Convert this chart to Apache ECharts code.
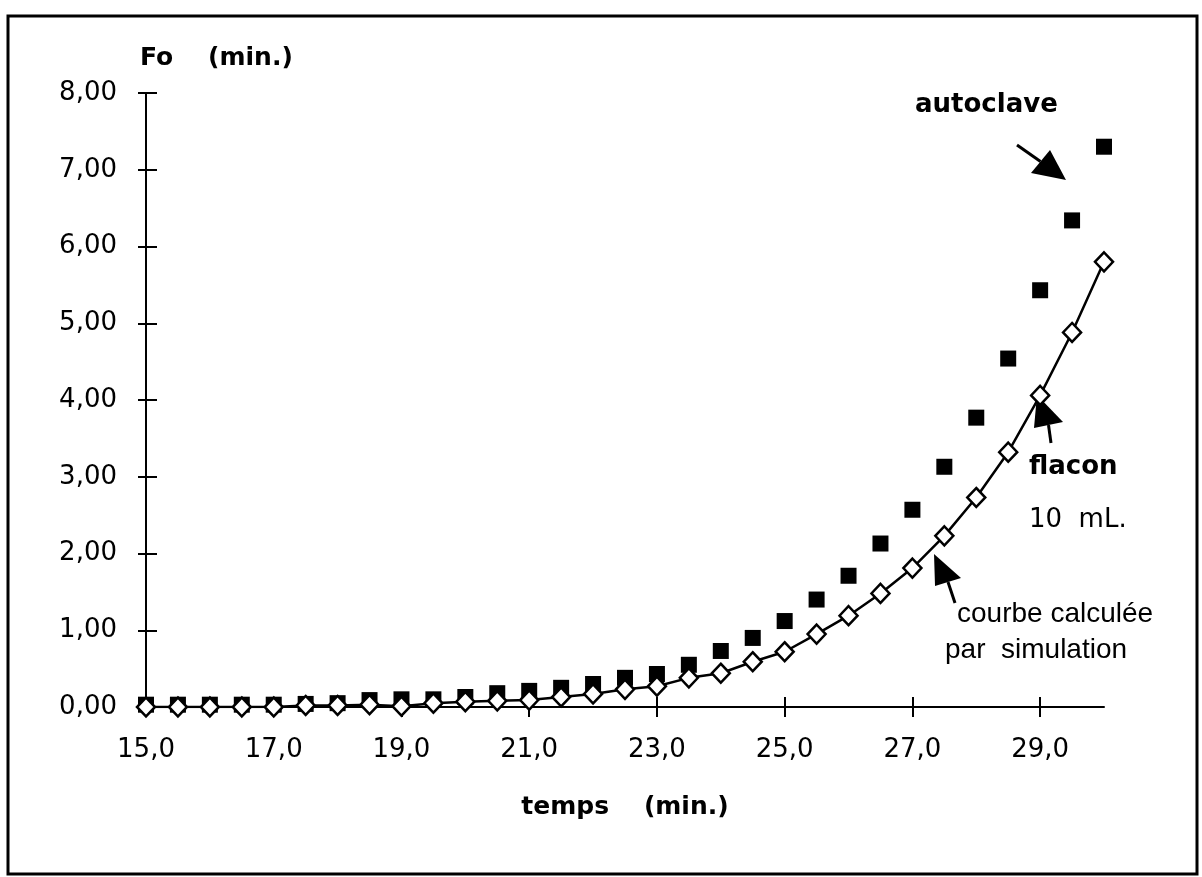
<!DOCTYPE html>
<html>
<head>
<meta charset="utf-8">
<script src="https://cdn.jsdelivr.net/npm/echarts@6/dist/echarts.min.js"></script>
<style>
  html, body { margin: 0; padding: 0; background: #fff; }
  #chart { width: 1202px; height: 877px; }
</style>
</head>
<body>
<div id="chart"></div>
<script>
// temps (min.) de 15,0 a 30,0 par pas de 0,5
var temps = ['15,0','15,5','16,0','16,5','17,0','17,5','18,0','18,5','19,0','19,5',
             '20,0','20,5','21,0','21,5','22,0','22,5','23,0','23,5','24,0','24,5',
             '25,0','25,5','26,0','26,5','27,0','27,5','28,0','28,5','29,0','29,5','30,0']
// Fo mesure dans l'autoclave (carres noirs)
var foAutoclave = [0.03, 0.03, 0.03, 0.03, 0.03, 0.04, 0.05, 0.09, 0.10, 0.10,
                   0.13, 0.18, 0.21, 0.25, 0.30, 0.38, 0.43, 0.55, 0.73, 0.90,
                   1.12, 1.40, 1.71, 2.13, 2.57, 3.13, 3.77, 4.54, 5.43, 6.34, 7.30]
// Fo flacon 10 mL, courbe calculee par simulation (losanges blancs)
var foFlacon = [0.00, 0.00, 0.00, 0.00, 0.00, 0.02, 0.02, 0.03, 0.01, 0.05,
                0.07, 0.08, 0.09, 0.13, 0.17, 0.23, 0.27, 0.38, 0.44, 0.59,
                0.72, 0.95, 1.19, 1.48, 1.81, 2.23, 2.73, 3.32, 4.06, 4.88, 5.80]
var yTicks = { min: 0, max: 8, interval: 1 }

var chart = echarts.init(document.getElementById('chart'))

// petite fleche noire (trait + tete triangulaire)
function arrow(x0, y0, tip, c1, c2) {
  var bx = (c1[0] + c2[0]) / 2, by = (c1[1] + c2[1]) / 2
  return [
    { type: 'line', shape: { x1: x0, y1: y0, x2: bx, y2: by }, style: { stroke: '#000', lineWidth: 3 } },
    { type: 'polygon', shape: { points: [tip, c1, c2] }, style: { fill: '#000' } }
  ]
}

var labelFont = { fontFamily: 'DejaVu Sans', fontSize: 26, color: '#000' }

var option = {
  backgroundColor: '#fff',
  animation: false,
  grid: { left: 146, right: 98, top: 93, bottom: 170, containLabel: false },
  xAxis: [
    {
      type: 'category',
      data: temps,
      boundaryGap: false,
      position: 'bottom',
      axisLine: { lineStyle: { color: '#000', width: 2 } },
      axisTick: { show: true, interval: 3, length: 10, lineStyle: { color: '#000', width: 2 } },
      axisLabel: Object.assign({ interval: 3, margin: 30, hideOverlap: false }, labelFont),
      splitLine: { show: false },
      name: 'temps    (min.)',
      nameLocation: 'middle',
      nameGap: 88,
      nameTextStyle: { fontFamily: 'DejaVu Sans', fontWeight: 'bold', fontSize: 25, color: '#000' }
    },
    {
      // ticks qui traversent l'axe (cote interieur)
      type: 'category',
      data: temps,
      boundaryGap: false,
      position: 'bottom',
      axisLine: { show: false },
      axisTick: { show: true, inside: true, interval: 3, length: 10, lineStyle: { color: '#000', width: 2 } },
      axisLabel: { show: false },
      splitLine: { show: false }
    }
  ],
  yAxis: [
    {
      type: 'value',
      min: yTicks.min, max: yTicks.max, interval: yTicks.interval,
      axisLine: { show: true, lineStyle: { color: '#000', width: 2 } },
      axisTick: { show: true, length: 8, lineStyle: { color: '#000', width: 2 } },
      axisLabel: Object.assign({
        margin: 29,
        formatter: function (v) { return v.toFixed(2).replace('.', ',') }
      }, labelFont),
      splitLine: { show: false }
    },
    {
      type: 'value',
      position: 'left',
      min: yTicks.min, max: yTicks.max, interval: yTicks.interval,
      axisLine: { show: false },
      axisTick: { show: true, inside: true, length: 11, lineStyle: { color: '#000', width: 2 } },
      axisLabel: { show: false },
      splitLine: { show: false }
    }
  ],
  series: [
    {
      name: 'autoclave',
      type: 'scatter',
      data: foAutoclave,
      symbol: 'rect',
      symbolSize: 16,
      itemStyle: { color: '#000', opacity: 1 },
      z: 2
    },
    {
      name: 'flacon 10 mL.',
      type: 'line',
      data: foFlacon,
      smooth: false,
      symbol: 'diamond',
      symbolSize: [18, 19],
      showAllSymbol: true,
      lineStyle: { color: '#000', width: 2.5 },
      itemStyle: { color: '#fff', borderColor: '#000', borderWidth: 2.5, opacity: 1 },
      z: 3
    }
  ],
  graphic: [
    // cadre
    { type: 'rect', shape: { x: 8, y: 16, width: 1189, height: 858 },
      style: { fill: null, stroke: '#000', lineWidth: 3 }, silent: true },
    { type: 'text', left: 140, top: 46,
      style: { text: 'Fo    (min.)', font: 'bold 25px "DejaVu Sans"', fill: '#000' } },
    { type: 'text', left: 915, top: 92,
      style: { text: 'autoclave', font: 'bold 26px "DejaVu Sans"', fill: '#000' } },
    { type: 'text', left: 1029, top: 454,
      style: { text: 'flacon', font: 'bold 26px "DejaVu Sans"', fill: '#000' } },
    { type: 'text', left: 1029, top: 507,
      style: { text: '10  mL.', font: '26px "DejaVu Sans"', fill: '#000' } },
    { type: 'text', left: 957, top: 600,
      style: { text: 'courbe calculée', font: '28px "Liberation Sans"', fill: '#000' } },
    { type: 'text', left: 945, top: 636,
      style: { text: 'par  simulation', font: '28px "Liberation Sans"', fill: '#000' } }
  ]
    .concat(arrow(1017, 145, [1066, 180], [1050, 150], [1031, 173]))
    .concat(arrow(1051, 443, [1037, 395], [1063, 422], [1034, 428]))
    .concat(arrow(955, 603, [934, 554], [961, 578], [935, 586]))
}

chart.setOption(option)
</script>
</body>
</html>
